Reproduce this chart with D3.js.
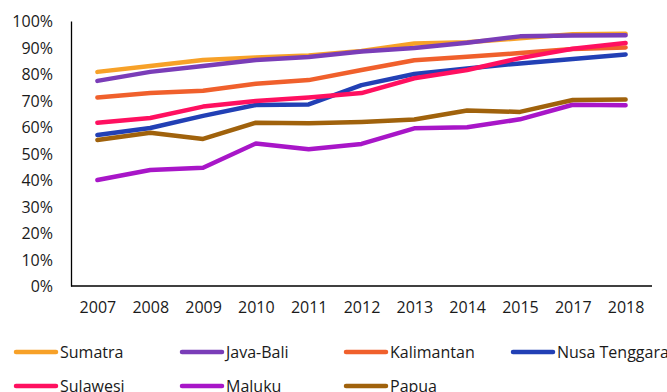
<!DOCTYPE html>
<html>
<head>
<meta charset="utf-8">
<script src="https://cdn.jsdelivr.net/npm/d3@7"></script>
<style>
  html, body { margin: 0; padding: 0; background: #fff; }
  svg { display: block; }
  text { font-family: "Open Sans", "Noto Sans", sans-serif; fill: #1a1a1a; }
</style>
</head>
<body>
<svg id="chart" width="667" height="392"></svg>
<script>
// Years on the x axis
const years = ["2007","2008","2009","2010","2011","2012","2013","2014","2015","2017","2018"];

// Share (%) per region and year
const sumatra      = [80.8, 83.0, 85.3, 86.2, 87.0, 88.7, 91.5, 92.0, 93.5, 95.0, 95.2];
const javaBali     = [77.4, 80.8, 83.0, 85.3, 86.4, 88.5, 89.8, 91.8, 94.2, 94.5, 94.6];
const kalimantan   = [71.1, 72.8, 73.7, 76.3, 77.7, 81.5, 85.2, 86.5, 87.9, 89.4, 90.0];
const nusaTenggara = [57.0, 59.6, 64.2, 68.3, 68.5, 75.8, 80.0, 82.1, 84.0, 85.7, 87.4];
const sulawesi     = [61.6, 63.4, 67.7, 69.8, 71.1, 72.8, 78.4, 81.5, 86.0, 89.5, 91.7];
const maluku       = [40.0, 43.8, 44.6, 53.8, 51.6, 53.6, 59.5, 59.9, 62.9, 68.4, 68.2];
const papua        = [55.1, 57.8, 55.5, 61.6, 61.4, 61.9, 62.8, 66.2, 65.7, 70.2, 70.4];

const seriesNames  = ["Sumatra","Java-Bali","Kalimantan","Nusa Tenggara","Sulawesi","Maluku","Papua"];
const seriesValues = [sumatra, javaBali, kalimantan, nusaTenggara, sulawesi, maluku, papua];
const seriesColors = ["#F7A128","#7A3DB8","#F0602C","#2240B5","#FF1060","#A816C8","#A0620C"];

// Y tick values (percent)
const yTicks = [0,10,20,30,40,50,60,70,80,90,100];

const svg = d3.select("#chart");
const plot = { left: 71, right: 652, top: 21, bottom: 286 };

const x = d3.scalePoint().domain(years).range([plot.left, plot.right]).padding(0.5);
const y = d3.scaleLinear().domain([0, 100]).range([plot.bottom, plot.top]);

// Axes
const yAxis = svg.append("g")
  .attr("transform", `translate(${plot.left},0)`)
  .call(d3.axisLeft(y).tickValues(yTicks).tickSize(0).tickPadding(18).tickFormat(d => d + "%"));
yAxis.select(".domain").attr("stroke", "#000").attr("stroke-width", 1.3);
yAxis.selectAll("text").style("font-size", "16px").attr("fill", "#1a1a1a").attr("dy", "0.35em");

const xAxis = svg.append("g")
  .attr("transform", `translate(0,${plot.bottom})`)
  .call(d3.axisBottom(x).tickSize(0).tickPadding(16));
xAxis.select(".domain").attr("stroke", "#000").attr("stroke-width", 1.3)
  .attr("d", `M${plot.left},0H${plot.right}`);
xAxis.selectAll("text").style("font-size", "16px").attr("fill", "#1a1a1a");

// Lines
const line = d3.line()
  .x((d, i) => x(years[i]))
  .y(d => y(d));

svg.append("g").selectAll("path")
  .data(seriesValues)
  .join("path")
  .attr("d", d => line(d))
  .attr("fill", "none")
  .attr("stroke", (d, i) => seriesColors[i])
  .attr("stroke-width", 4.5)
  .attr("stroke-linejoin", "round")
  .attr("stroke-linecap", "round");

// Legend: two rows, four columns
const legendCols = [14, 180, 344, 511];
const legendRows = [352, 386];
const legend = svg.append("g");
seriesNames.forEach((name, i) => {
  const cx = legendCols[i % 4];
  const cy = legendRows[Math.floor(i / 4)];
  legend.append("line")
    .attr("x1", cx + 2).attr("x2", cx + 42)
    .attr("y1", cy).attr("y2", cy)
    .attr("stroke", seriesColors[i])
    .attr("stroke-width", 4.5)
    .attr("stroke-linecap", "round");
  legend.append("text")
    .attr("x", cx + 46).attr("y", cy)
    .attr("dy", "0.35em")
    .style("font-size", "16px")
    .text(name);
});
</script>
</body>
</html>
